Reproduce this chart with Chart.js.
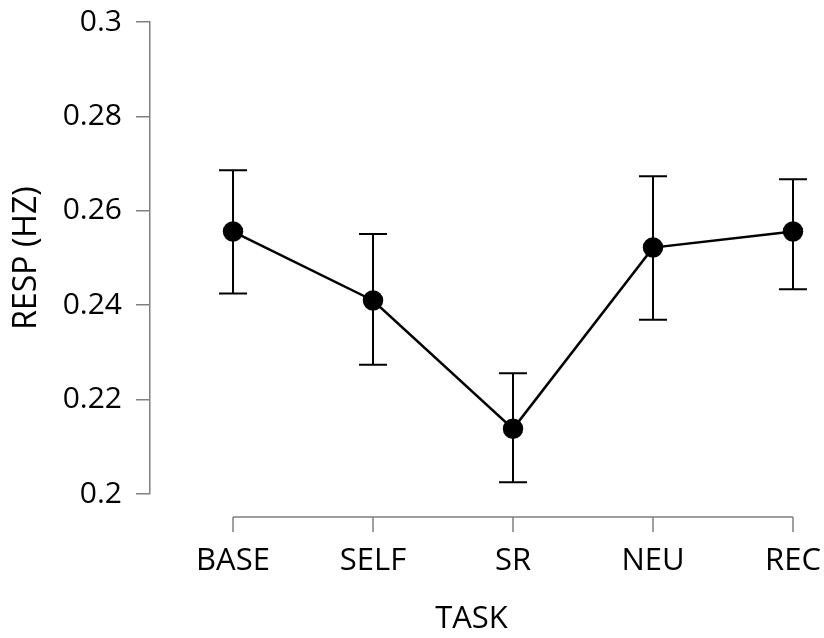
<!DOCTYPE html>
<html>
<head>
<meta charset="utf-8">
<script src="https://cdn.jsdelivr.net/npm/chart.js@4"></script>
<style>
	html, body { margin: 0; padding: 0; background: #fff; }
	#wrap { width: 824px; height: 638px; }
</style>
</head>
<body>
<div id="wrap"><canvas id="chart"></canvas></div>
<script>
	"use strict";

	var tasks = ["BASE", "SELF", "SR", "NEU", "REC"];
	var resp = [0.2556, 0.2410, 0.2138, 0.2522, 0.2556];
	var respHigh = [0.2686, 0.2551, 0.2256, 0.2673, 0.2667];
	var respLow = [0.2425, 0.2274, 0.2025, 0.2369, 0.2434];
	var yTicks = [0.2, 0.22, 0.24, 0.26, 0.28, 0.3];

	var axisGray = "#808080";
	var font = "'Open Sans', sans-serif";

	// R style axes: lines only between first and last tick, x axis detached below the plot
	var rAxes = {
		id: "rAxes",
		afterDraw: function(chart) {
			var ctx = chart.ctx;
			var xs = chart.scales.x;
			var yBase = chart.chartArea.bottom + 23;
			ctx.save();
			ctx.strokeStyle = axisGray;
			ctx.lineWidth = 1.5;
			ctx.beginPath();
			ctx.moveTo(xs.getPixelForValue(0), yBase);
			ctx.lineTo(xs.getPixelForValue(tasks.length - 1), yBase);
			tasks.forEach(function(t, i) {
				var px = xs.getPixelForValue(i);
				ctx.moveTo(px, yBase);
				ctx.lineTo(px, yBase + 15);
			});
			ctx.stroke();
			ctx.restore();
		}
	};

	var errorBars = {
		id: "errorBars",
		beforeDatasetsDraw: function(chart) {
			var ctx = chart.ctx;
			var xs = chart.scales.x;
			var ys = chart.scales.y;
			var cap = 14;
			ctx.save();
			ctx.strokeStyle = "#000";
			ctx.lineWidth = 2;
			respHigh.forEach(function(hi, i) {
				var px = xs.getPixelForValue(i);
				var top = ys.getPixelForValue(hi);
				var bot = ys.getPixelForValue(respLow[i]);
				ctx.beginPath();
				ctx.moveTo(px, top);
				ctx.lineTo(px, bot);
				ctx.moveTo(px - cap, top);
				ctx.lineTo(px + cap, top);
				ctx.moveTo(px - cap, bot);
				ctx.lineTo(px + cap, bot);
				ctx.stroke();
			});
			ctx.restore();
		}
	};

	new Chart(document.getElementById("chart").getContext("2d"), {
		type: "line",
		data: {
			datasets: [{
				data: resp.map(function(v, i) { return { x: i, y: v }; }),
				borderColor: "#000",
				backgroundColor: "#000",
				borderWidth: 2.5,
				pointRadius: 9,
				pointHoverRadius: 9,
				pointBackgroundColor: "#000",
				tension: 0,
				clip: false
			}]
		},
		options: {
			responsive: true,
			maintainAspectRatio: false,
			animation: false,
			layout: {
				padding: { top: 22, right: 31, left: 0, bottom: 0 }
			},
			plugins: {
				legend: { display: false },
				tooltip: { enabled: false }
			},
			scales: {
				x: {
					type: "linear",
					min: -0.593,
					max: tasks.length - 1,
					afterBuildTicks: function(scale) {
						scale.ticks = tasks.map(function(t, i) { return { value: i }; });
					},
					afterFit: function(scale) {
						scale.height = 144;
						scale.paddingLeft = 0;
						scale.paddingRight = 0;
					},
					grid: { display: false },
					border: { display: false },
					ticks: {
						autoSkip: false,
						maxRotation: 0,
						padding: 41,
						color: "#000",
						font: { family: font, size: 31 },
						callback: function(v) { return tasks[v]; }
					},
					title: {
						display: true,
						text: "TASK",
						color: "#000",
						font: { family: font, size: 31 },
						padding: { top: 20, bottom: 0 }
					}
				},
				y: {
					min: 0.2,
					max: 0.3,
					afterBuildTicks: function(scale) {
						scale.ticks = yTicks.map(function(v) { return { value: v }; });
					},
					afterFit: function(scale) {
						scale.width = 150;
						scale.paddingTop = 0;
						scale.paddingBottom = 0;
					},
					grid: {
						display: true,
						drawOnChartArea: false,
						drawTicks: true,
						tickLength: 14,
						color: axisGray,
						lineWidth: 1.5
					},
					border: { display: true, color: axisGray, width: 1.5 },
					ticks: {
						padding: 14,
						color: "#000",
						font: { family: font, size: 30 },
						callback: function(v) { return String(Math.round(v * 100) / 100); }
					},
					title: {
						display: true,
						text: "RESP (HZ)",
						color: "#000",
						font: { family: font, size: 32 },
						padding: { top: 8, bottom: 4 }
					}
				}
			}
		},
		plugins: [errorBars, rAxes]
	});
</script>
</body>
</html>
